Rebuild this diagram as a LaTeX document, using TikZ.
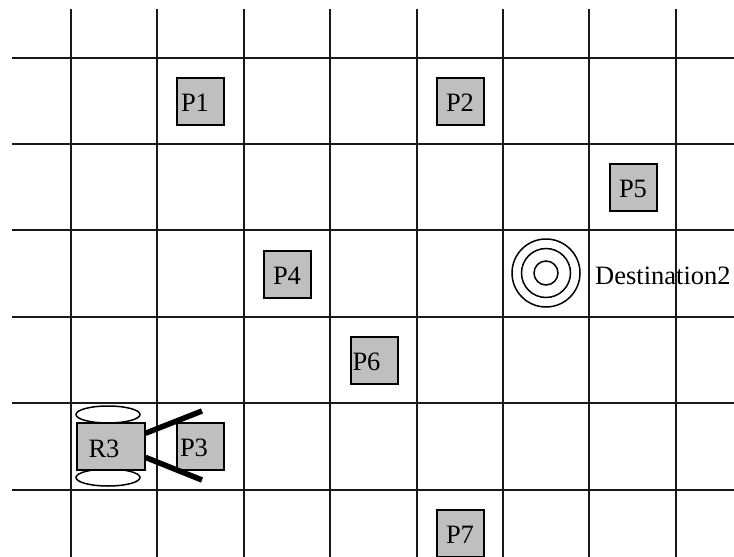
\documentclass[tikz,border=0pt]{standalone}
\usepackage{fontspec}
\setmainfont{Liberation Serif}
\usepackage{xcolor}
\usepackage{tikz}
\usetikzlibrary{positioning}
\usetikzlibrary{shapes.geometric}

\tikzset{
    gridline/.style={line width=2pt, black!90},
    pbox/.style={draw, fill=black!25, line width=2pt, rectangle, minimum height=47pt, inner sep=4pt, text width=39pt, text height=20pt, text depth=0pt, align=center, font=\fontsize{26.5}{30}\selectfont},
    pboxleft/.style={pbox, align=left},
    wheel/.style={draw, fill=white, ellipse, line width=1.5pt, minimum width=64pt, minimum height=17pt, inner sep=0pt},
    ring/.style={draw, circle, line width=1.5pt, inner sep=0pt},
    armline/.style={line width=5.5pt}
}

\begin{document}
\begin{tikzpicture}[x=1pt,y=-1pt]
            \useasboundingbox (0,0) rectangle (734,557);

            % Grid lines
            \foreach \x in {71,157,244,330,417,503,589,676}
                \draw[gridline] (\x,9) -- (\x,557);
            \foreach \y in {58,144,230,317,403,490}
                \draw[gridline] (12,\y) -- (734,\y);

            % Packages
            \node[pboxleft] (P1) at (200.5,101) {P1};
            \node[pbox] (P2) at (460,101) {P2};
            \node[pbox] (P5) at (633,187) {P5};
            \node[pbox] (P4) at (287,274) {P4};
            \node[pboxleft, inner sep=2pt, text width=43pt] (P6) at (374,360) {P6};
            \node[pboxleft, inner sep=3pt, text width=41pt] (P3) at (200.5,446.5) {P3};
            \node[pbox] (P7) at (460,533) {P7};

            % Robot
            \node[wheel] (WheelTop) at (108,414.5) {};
            \node[wheel] (WheelBottom) at (108,477.5) {};
            \node[pboxleft, inner sep=12pt, text width=44pt, text height=23pt, minimum height=46pt] (R3) at (110.5,446) {R3};
            \coordinate (ArmTop) at (202,411);
            \coordinate (ArmBottom) at (202,480);
            \draw[armline] (R3.20) -- (ArmTop);
            \draw[armline] (R3.-18) -- (ArmBottom);

            % Destination
            \node[ring, minimum size=68pt] (RingOuter) at (546,273) {};
            \node[ring, minimum size=49pt] (RingMiddle) at (546,273) {};
            \node[ring, minimum size=24pt] (RingInner) at (546,273) {};
            \node[anchor=base west, inner sep=0pt, font=\fontsize{26.5}{30}\selectfont] (Dest) at (595,284) {Destination2};
        \end{tikzpicture}
\end{document}
